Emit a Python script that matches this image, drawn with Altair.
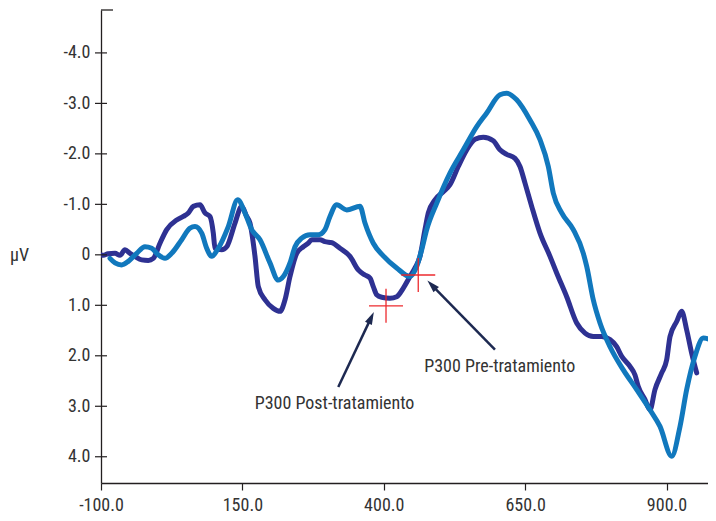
import math
import altair as alt
import pandas as pd

# ---------------- data ----------------
post_x = [-100, -95.9, -87.6, -75.2, -66.4, -57.6, -48.7, -39.9, -28.0, -16.4, -7.5, 4.3, 16.2,
          33.9, 45.5, 54.4, 63.2, 75.1, 83.9, 92.7, 98.6, 101.6, 113.4, 122.3, 137.0, 148.8,
          157.6, 163.5, 172.3, 178.2, 190.0, 204.7, 216.5, 225.4, 234.2, 246.1, 257.7, 266.6,
          272.6, 287.3, 296.1, 308.0, 322.6, 340.3, 355.0, 366.8, 375.7, 381.5, 387.5, 396.4,
          411.0, 422.9, 434.6, 446.4, 455.3, 464.1, 472.9, 478.8, 490.6, 505.3, 517.1, 531.8,
          546.7, 561.4, 576.0, 593.7, 605.5, 617.4, 632.1, 640.9, 649.8, 661.6, 676.3, 694.0,
          705.8, 723.5, 741.2, 755.9, 770.5, 785.4, 800.1, 811.9, 820.7, 835.4, 844.3, 850.1,
          862.0, 870.8, 879.6, 891.5, 900.3, 906.2, 918.0, 926.8, 935.7, 944.5, 953.4]
post_y = [0.0, 0.01, -0.02, -0.03, 0.01, -0.10, -0.03, 0.03, 0.10, 0.11, 0.07, -0.23, -0.50,
          -0.69, -0.76, -0.83, -0.96, -0.99, -0.83, -0.76, -0.43, -0.13, -0.10, -0.16, -0.63, -0.96,
          -0.76, -0.63, 0.03, 0.63, 0.89, 1.06, 1.12, 0.89, 0.43, -0.03, -0.16, -0.23,
          -0.30, -0.30, -0.26, -0.24, -0.13, 0.03, 0.30, 0.40, 0.46, 0.63, 0.79, 0.84,
          0.86, 0.83, 0.66, 0.43, 0.26, 0.03, -0.50, -0.83, -1.09, -1.25, -1.39, -1.75,
          -2.08, -2.29, -2.33, -2.26, -2.08, -1.99, -1.91, -1.75, -1.42, -0.96, -0.43, 0.03,
          0.36, 0.83, 1.35, 1.55, 1.62, 1.62, 1.68, 1.82, 2.01, 2.21, 2.38, 2.61,
          2.87, 3.07, 2.67, 2.34, 2.08, 1.62, 1.32, 1.12, 1.49, 1.95, 2.34]

pre_x = [-84.1, -75.2, -63.4, -51.7, -36.9, -22.2, -10.3, 1.3, 13.2, 25.0, 42.7, 57.4, 66.2,
         78.1, 86.9, 95.8, 107.4, 125.1, 141.7, 154.6, 166.5, 181.2, 198.8, 213.5, 222.4,
         234.2, 243.1, 254.9, 269.6, 284.3, 296.1, 304.9, 316.8, 334.5, 358.0, 366.8, 381.5,
         399.2, 422.9, 446.4, 458.3, 467.1, 476.0, 493.6, 517.1, 540.7, 564.4, 582.1, 605.5,
         617.4, 635.1, 658.6, 676.3, 691.0, 699.9, 714.7, 735.2, 752.9, 758.9, 770.5, 782.4,
         800.1, 823.6, 847.3, 870.8, 888.5, 909.2, 923.9, 935.7, 950.4, 965.1, 976.9, 987.5]
pre_y = [0.07, 0.16, 0.20, 0.13, -0.03, -0.16, -0.13, 0.0, 0.07, -0.03, -0.30, -0.53, -0.56,
         -0.43, -0.13, 0.03, -0.13, -0.56, -1.09, -0.83, -0.50, -0.30, 0.16, 0.50, 0.43,
         0.16, -0.16, -0.33, -0.40, -0.40, -0.50, -0.76, -0.99, -0.89, -0.96, -0.63, -0.23,
         0.02, 0.26, 0.43, 0.23, -0.10, -0.50, -1.02, -1.62, -2.08, -2.54, -2.81, -3.17,
         -3.20, -3.07, -2.67, -2.28, -1.75, -1.22, -0.83, -0.50, -0.03, 0.23, 0.89, 1.35,
         1.82, 2.28, 2.67, 3.07, 3.40, 3.99, 3.40, 2.67, 2.01, 1.65, 1.68, 1.82]

x_ticks = [-100, 150, 400, 650, 900]
y_ticks = [-4, -3, -2, -1, 0, 1, 2, 3, 4]
y_domain = [-4.85, 4.52]

marker_x = [404, 461]
marker_y = [1.01, 0.40]

label_text = ["P300 Post-tratamiento", "P300 Pre-tratamiento"]
label_x = [313, 605]
label_y = [2.95, 2.23]

arrow_tail_x = [319.6, 596.7]
arrow_tail_y = [2.62, 1.88]
arrow_tip_x = [381.5, 478.8]
arrow_tip_y = [1.155, 0.529]

# ---------------- style ----------------
W, H = 607, 473
PX_PER_X = 0.5655            # horizontal scale of the reference (pixels per ms)
x_domain = [-100, -100 + W / PX_PER_X]
FONT = "Roboto Condensed, Liberation Sans Narrow, DejaVu Sans Condensed, sans-serif"
FS = 18
DARK = "#2e3192"
LIGHT = "#1178bd"
AXIS_C = "#231f20"
TEXT_C = "#333333"
ARROW_C = "#1d2951"
RED = "#ed2024"

sx = W / (x_domain[1] - x_domain[0])
sy = H / (y_domain[1] - y_domain[0])

xs = alt.Scale(domain=x_domain, nice=False, zero=False)
ys = alt.Scale(domain=y_domain, reverse=True, nice=False, zero=False)

lab_expr = "datum.value == 0 ? '0' : (datum.value < 0 ? '-' : '') + format(abs(datum.value), '.1f')"

x_axis = alt.Axis(values=x_ticks, labelExpr=lab_expr, title=None, grid=False,
                  tickSize=7, tickColor=AXIS_C, tickWidth=1.2, labelPadding=6,
                  domainColor=AXIS_C, domainWidth=1.3, labelFont=FONT, labelFontSize=FS,
                  labelColor=TEXT_C, labelAlign="center", labelBaseline="top")
y_axis = alt.Axis(values=y_ticks, labelExpr=lab_expr, title="μV", grid=False,
                  ticks=False, tickSize=0, labelPadding=11,
                  domainColor=AXIS_C, domainWidth=1.3, labelFont=FONT, labelFontSize=FS,
                  labelColor=TEXT_C, labelBaseline="middle",
                  titleAngle=0, titleX=-82, titleY=245, titleAlign="center",
                  titleBaseline="middle", titleFont=FONT, titleFontSize=FS,
                  titleFontWeight="normal", titleColor=TEXT_C)


def X(f):
    return alt.X(f, type="quantitative", scale=xs, axis=x_axis)


def Y(f):
    return alt.Y(f, type="quantitative", scale=ys, axis=y_axis)


post_df = pd.DataFrame({"x": post_x, "y": post_y})
pre_df = pd.DataFrame({"x": pre_x, "y": pre_y})

line_kw = dict(strokeWidth=5, interpolate="monotone", clip=True,
               strokeCap="round", strokeJoin="round")
post_line = alt.Chart(post_df).mark_line(color=DARK, **line_kw).encode(x=X("x"), y=Y("y"))
pre_line = alt.Chart(pre_df).mark_line(color=LIGHT, **line_kw).encode(x=X("x"), y=Y("y"))

# y-axis ticks crossing the axis line, and the cap at the top
tick_df = pd.DataFrame({"x": [x_domain[0]] * len(y_ticks), "y": y_ticks})
yticks = alt.Chart(tick_df).mark_tick(orient="horizontal", size=12, thickness=1.2,
                                      color=AXIS_C, opacity=1).encode(x=X("x"), y=Y("y"))
cap_df = pd.DataFrame({"x": [x_domain[0]], "y": [y_domain[0]]})
cap = alt.Chart(cap_df).mark_tick(orient="horizontal", size=12, thickness=1.3, xOffset=6,
                                  color=AXIS_C, opacity=1).encode(x=X("x"), y=Y("y"))

# red crosses
mk_df = pd.DataFrame({"x": marker_x, "y": marker_y})
crosses = alt.Chart(mk_df).mark_point(shape="M-1,0L1,0M0,-1L0,1", size=1156, filled=False,
                                      stroke=RED, strokeWidth=1.3, opacity=0.95
                                      ).encode(x=X("x"), y=Y("y"))

# arrows
ang, hx, hy = [], [], []
for tx, ty, px, py in zip(arrow_tail_x, arrow_tail_y, arrow_tip_x, arrow_tip_y):
    dx = (px - tx) * sx
    dy = (py - ty) * sy
    L = math.hypot(dx, dy)
    ux, uy = dx / L, dy / L
    ang.append(math.degrees(math.atan2(dx, -dy)) % 360)
    hx.append(px - 5 * ux / sx)
    hy.append(py - 5 * uy / sy)
ar_df = pd.DataFrame({"x": arrow_tail_x, "y": arrow_tail_y, "x2": hx, "y2": hy,
                      "hx": hx, "hy": hy, "ang": ang})
shafts = alt.Chart(ar_df).mark_rule(color=ARROW_C, strokeWidth=2.5).encode(
    x=X("x"), y=Y("y"), x2="x2", y2="y2")
heads = alt.Chart(ar_df).mark_point(shape="M0,-1L0.6,1L-0.6,1Z", size=160, filled=True,
                                    color=ARROW_C, opacity=1).encode(
    x=X("hx"), y=Y("hy"), angle=alt.Angle("ang:Q", scale=None))

# labels
lb_df = pd.DataFrame({"x": label_x, "y": label_y, "t": label_text})
labels = alt.Chart(lb_df).mark_text(font=FONT, fontSize=FS, color=TEXT_C, align="center",
                                    baseline="middle").encode(x=X("x"), y=Y("y"), text="t:N")

chart = alt.layer(post_line, pre_line, yticks, cap, crosses, shafts, heads, labels).properties(
    width=W, height=H,
    autosize=alt.AutoSizeParams(type="none"),
    padding={"left": 93, "top": 2, "right": 0, "bottom": 30},
    background="white",
).configure_view(stroke=None)

chart.save("out.html", embed_options={"renderer": "svg", "actions": False})
